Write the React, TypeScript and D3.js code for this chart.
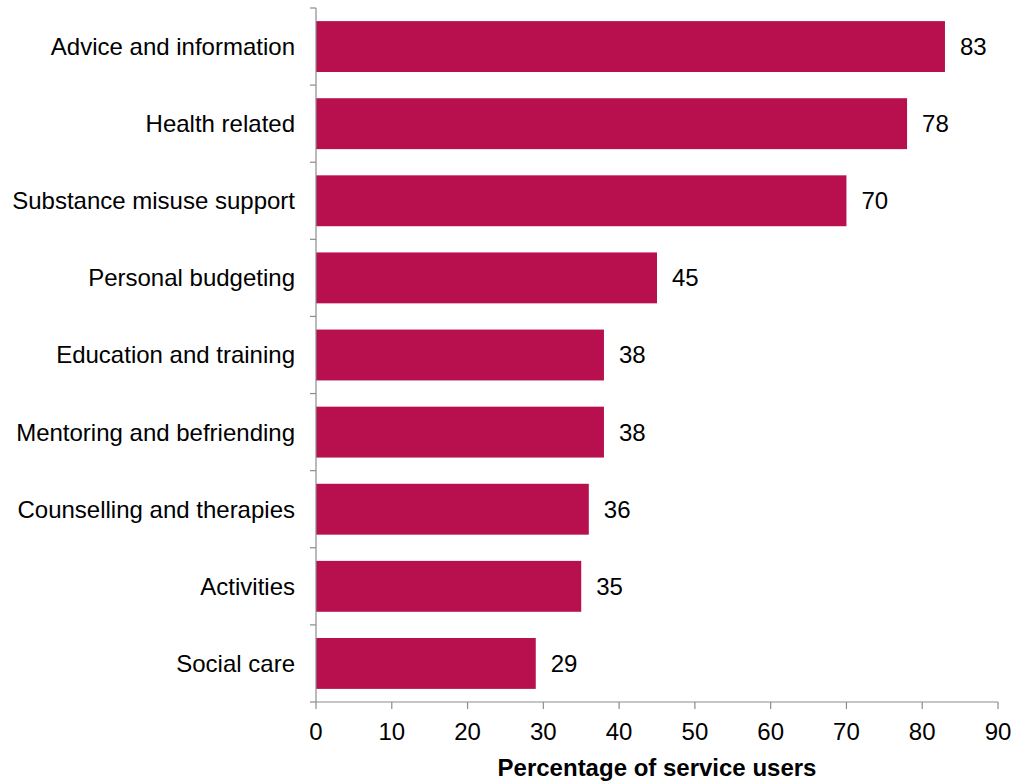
import React from "react";
import * as d3 from "d3";

const categories = [
  "Advice and information",
  "Health related",
  "Substance misuse support",
  "Personal budgeting",
  "Education and training",
  "Mentoring and befriending",
  "Counselling and therapies",
  "Activities",
  "Social care",
];
const values = [83, 78, 70, 45, 38, 38, 36, 35, 29];
const xTicks = [0, 10, 20, 30, 40, 50, 60, 70, 80, 90];
const xTitle = "Percentage of service users";

export default function App() {
  const W = 1019, H = 781;
  const x0 = 316, x1 = 998, yTop = 8, yBot = 702;
  const x = d3.scaleLinear().domain([0, 90]).range([x0, x1]);
  const y = d3.scaleBand().domain(categories).range([yTop, yBot]).paddingInner(0.34).paddingOuter(0.17);
  const step = (yBot - yTop) / categories.length;
  const font = "'Liberation Sans', Arial, sans-serif";
  const axisColor = "#8c8c8c";
  const fs = 24;
  return (
    <svg width={W} height={H} style={{ position: "absolute", left: 0, top: 0 }} fontFamily={font}>
      {categories.map((c, i) => (
        <g key={c}>
          <rect x={x(0)} y={y(c)!} width={x(values[i]) - x(0)} height={y.bandwidth()} fill="#b8104f" />
          <text x={x(values[i]) + 15} y={y(c)! + y.bandwidth() / 2} dy="0.35em" fontSize={fs} fill="#000">
            {values[i]}
          </text>
          <text x={x0 - 21} y={y(c)! + y.bandwidth() / 2} dy="0.35em" textAnchor="end" fontSize={fs} fill="#000">
            {c}
          </text>
        </g>
      ))}
      <line x1={x0} x2={x0} y1={yTop} y2={yBot} stroke={axisColor} strokeWidth={1.2} />
      {d3.range(categories.length + 1).map((i) => (
        <line key={i} x1={x0 - 6} x2={x0} y1={yTop + i * step} y2={yTop + i * step} stroke={axisColor} strokeWidth={1.2} />
      ))}
      <line x1={x0} x2={x1} y1={yBot} y2={yBot} stroke={axisColor} strokeWidth={1.2} />
      {xTicks.map((t) => (
        <g key={t}>
          <line x1={x(t)} x2={x(t)} y1={yBot} y2={yBot + 7} stroke={axisColor} strokeWidth={1.2} />
          <text x={x(t)} y={732} dy="0.35em" textAnchor="middle" fontSize={fs} fill="#000">
            {t}
          </text>
        </g>
      ))}
      <text x={(x0 + x1) / 2} y={768} dy="0.35em" textAnchor="middle" fontSize={fs} fontWeight="bold" fill="#000">
        {xTitle}
      </text>
    </svg>
  );
}
